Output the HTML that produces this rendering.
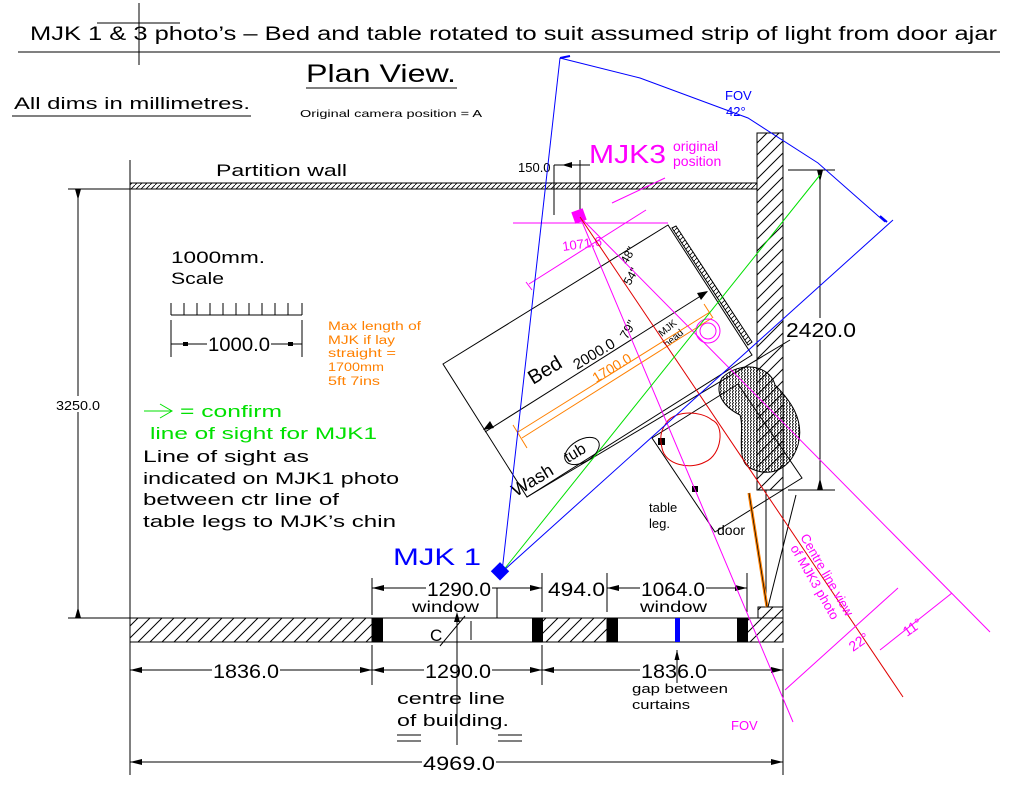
<!DOCTYPE html>
<html><head><meta charset="utf-8"><style>
html,body{margin:0;padding:0;background:#fff;}
svg{display:block;font-family:"Liberation Sans",sans-serif;}
</style></head><body>
<svg width="1013" height="794" viewBox="0 0 1013 794" xmlns="http://www.w3.org/2000/svg">
<defs>
<pattern id="h" width="12" height="12" patternUnits="userSpaceOnUse">
<path d="M0 12 L12 0 M-3 3 L3 -3 M9 15 L15 9" stroke="#000" stroke-width="1"/>
</pattern>
<pattern id="hs" width="5" height="5" patternUnits="userSpaceOnUse">
<path d="M0 5 L5 0" stroke="#000" stroke-width="0.8"/>
</pattern>
<pattern id="blob" width="3" height="3" patternUnits="userSpaceOnUse">
<path d="M0 3 L1.5 0" stroke="#000" stroke-width="1"/>
</pattern>
</defs>

<text x="30" y="40" font-size="19" textLength="967" lengthAdjust="spacingAndGlyphs">MJK 1 &amp; 3 photo’s – Bed and table rotated to suit assumed strip of light from door ajar</text>
<line x1="18" y1="52" x2="1000" y2="52" stroke="#000"/>
<line x1="97" y1="23" x2="180" y2="23" stroke="#000"/>
<line x1="139" y1="3" x2="139" y2="65" stroke="#000"/>
<text x="306" y="82" font-size="25" textLength="150" lengthAdjust="spacingAndGlyphs">Plan View.</text>
<line x1="306" y1="88" x2="457" y2="88" stroke="#000"/>
<text x="14" y="109" font-size="17" textLength="236" lengthAdjust="spacingAndGlyphs">All dims in millimetres.</text>
<line x1="12" y1="116" x2="251" y2="116" stroke="#000"/>
<text x="300" y="117" font-size="10.5" textLength="182" lengthAdjust="spacingAndGlyphs">Original camera position = A</text>

<line x1="130" y1="160" x2="130" y2="775" stroke="#000"/>
<rect x="130" y="183" width="627" height="6" fill="url(#hs)" stroke="#000"/>
<text x="216" y="176" font-size="17" textLength="131" lengthAdjust="spacingAndGlyphs">Partition wall</text>
<rect x="757" y="133" width="26" height="357" fill="url(#h)" stroke="#000"/>
<line x1="783" y1="490" x2="783" y2="642" stroke="#000"/>
<line x1="757" y1="490" x2="783" y2="490" stroke="#000"/>
<line x1="766" y1="490" x2="766" y2="607" stroke="#000"/>
<rect x="130" y="618" width="653" height="24" fill="#fff" stroke="#000"/>
<rect x="130" y="618" width="242" height="24" fill="url(#h)" stroke="#000"/>
<rect x="542" y="618" width="65" height="24" fill="url(#h)" stroke="#000"/>
<path d="M747 618 L758 618 L758 607 L783 607 L783 642 L747 642Z" fill="url(#h)" stroke="#000"/>
<rect x="372" y="618" width="11" height="24" fill="#000"/>
<rect x="532" y="618" width="11" height="24" fill="#000"/>
<rect x="607" y="618" width="11" height="24" fill="#000"/>
<rect x="737" y="618" width="11" height="24" fill="#000"/>
<rect x="675" y="618" width="5" height="24" fill="#00f"/>
<text x="430" y="641" font-size="17">C</text>
<line x1="440" y1="646" x2="465" y2="616" stroke="#000"/>
<line x1="471" y1="621" x2="471" y2="640" stroke="#000"/>
<line x1="457" y1="620" x2="457" y2="745" stroke="#000"/>
<path d="M454 622 L457 612 L460 622Z" fill="#000"/>

<line x1="68" y1="189" x2="130" y2="189" stroke="#000"/>
<line x1="68" y1="618" x2="130" y2="618" stroke="#000"/>
<line x1="78" y1="189" x2="78" y2="618" stroke="#000"/>
<path d="M75 189 L78 200 L81 189Z M75 618 L78 607 L81 618Z" fill="#000"/>
<rect x="55" y="396" width="46" height="16" fill="#fff"/>
<text x="56" y="410" font-size="13" textLength="44" lengthAdjust="spacingAndGlyphs">3250.0</text>

<line x1="788" y1="170" x2="835" y2="170" stroke="#000"/>
<line x1="788" y1="490" x2="835" y2="490" stroke="#000"/>
<line x1="820" y1="170" x2="820" y2="490" stroke="#000"/>
<path d="M817 170 L820 182 L823 170Z M817 490 L820 478 L823 490Z" fill="#000"/>
<rect x="785" y="318" width="72" height="22" fill="#fff"/>
<text x="786" y="337" font-size="20" textLength="70" lengthAdjust="spacingAndGlyphs">2420.0</text>

<g stroke="#000">
<line x1="372" y1="578" x2="372" y2="615"/><line x1="542" y1="573" x2="542" y2="612"/>
<line x1="607" y1="573" x2="607" y2="612"/><line x1="747" y1="573" x2="747" y2="612"/>
<line x1="372" y1="588" x2="542" y2="588"/><line x1="607" y1="588" x2="747" y2="588"/>
<line x1="497" y1="588" x2="497" y2="618"/>
</g>
<path d="M372 588 L384 585 L384 591Z M542 588 L530 585 L530 591Z M607 588 L619 585 L619 591Z M747 588 L735 585 L735 591Z" fill="#000"/>
<rect x="426" y="578" width="66" height="20" fill="#fff"/>
<text x="427" y="596" font-size="19" textLength="64" lengthAdjust="spacingAndGlyphs">1290.0</text>
<text x="548" y="596" font-size="19" textLength="57" lengthAdjust="spacingAndGlyphs">494.0</text>
<rect x="640" y="578" width="66" height="20" fill="#fff"/>
<text x="641" y="596" font-size="19" textLength="64" lengthAdjust="spacingAndGlyphs">1064.0</text>
<text x="412" y="612" font-size="16" textLength="67" lengthAdjust="spacingAndGlyphs">window</text>
<text x="640" y="612" font-size="16" textLength="67" lengthAdjust="spacingAndGlyphs">window</text>

<g stroke="#000">
<line x1="130" y1="648" x2="130" y2="685"/><line x1="372" y1="645" x2="372" y2="685"/>
<line x1="542" y1="645" x2="542" y2="685"/><line x1="783" y1="648" x2="783" y2="775"/>
<line x1="130" y1="670" x2="783" y2="670"/>
<line x1="130" y1="762" x2="783" y2="762"/>
</g>
<path d="M130 670 L142 667 L142 673Z M372 670 L360 667 L360 673Z M372 670 L384 667 L384 673Z M542 670 L530 667 L530 673Z M542 670 L554 667 L554 673Z M783 670 L771 667 L771 673Z M783 762 L771 759 L771 765Z M130 762 L142 759 L142 765Z M674 662 L677 650 L680 662Z" fill="#000"/>
<rect x="212" y="660" width="68" height="20" fill="#fff"/><text x="213" y="678" font-size="19" textLength="66" lengthAdjust="spacingAndGlyphs">1836.0</text>
<rect x="424" y="660" width="68" height="20" fill="#fff"/><text x="425" y="678" font-size="19" textLength="66" lengthAdjust="spacingAndGlyphs">1290.0</text>
<line x1="457" y1="660" x2="457" y2="682" stroke="#000"/>
<rect x="640" y="660" width="68" height="20" fill="#fff"/><text x="641" y="678" font-size="19" textLength="66" lengthAdjust="spacingAndGlyphs">1836.0</text>
<line x1="677" y1="650" x2="677" y2="683" stroke="#000"/>
<text x="632" y="693" font-size="12.5" textLength="96" lengthAdjust="spacingAndGlyphs">gap between</text>
<text x="632" y="709" font-size="12.5" textLength="58" lengthAdjust="spacingAndGlyphs">curtains</text>
<rect x="422" y="752" width="74" height="20" fill="#fff"/><text x="423" y="770" font-size="19" textLength="72" lengthAdjust="spacingAndGlyphs">4969.0</text>
<text x="397" y="704" font-size="17" textLength="108" lengthAdjust="spacingAndGlyphs">centre line</text>
<text x="397" y="726" font-size="17" textLength="112" lengthAdjust="spacingAndGlyphs">of building.</text>
<path d="M397 735 H421 M397 741 H421 M498 735 H522 M498 741 H522" stroke="#000"/>

<text x="171" y="263" font-size="17" textLength="94" lengthAdjust="spacingAndGlyphs">1000mm.</text>
<text x="171" y="284" font-size="17" textLength="53" lengthAdjust="spacingAndGlyphs">Scale</text>
<line x1="171" y1="315" x2="302" y2="315" stroke="#000"/>
<path d="M171 303 V315 M184 303 V315 M197 303 V315 M210 303 V315 M223 303 V315 M236 303 V315 M249 303 V315 M262 303 V315 M275 303 V315 M288 303 V315 M302 303 V315" stroke="#000"/>
<path d="M171 320 V357 M302 320 V357 M171 344 H302" stroke="#000"/>
<rect x="183" y="342" width="5" height="4" fill="#000"/><rect x="288" y="342" width="5" height="4" fill="#000"/>
<rect x="207" y="333" width="64" height="20" fill="#fff"/><text x="208" y="351" font-size="19" textLength="62" lengthAdjust="spacingAndGlyphs">1000.0</text>
<g fill="#ff8000" font-size="11.5">
<text x="328" y="330" textLength="93" lengthAdjust="spacingAndGlyphs">Max length of</text>
<text x="328" y="344" textLength="67" lengthAdjust="spacingAndGlyphs">MJK if lay</text>
<text x="328" y="357" textLength="68" lengthAdjust="spacingAndGlyphs">straight =</text>
<text x="328" y="371" textLength="56" lengthAdjust="spacingAndGlyphs">1700mm</text>
<text x="328" y="385" textLength="52" lengthAdjust="spacingAndGlyphs">5ft 7ins</text>
</g>
<g fill="#00e000" font-size="17">
<path d="M144 411 H172 M160 404 L172 411 L160 418" stroke="#00e000" fill="none"/>
<text x="180" y="417" textLength="102" lengthAdjust="spacingAndGlyphs">= confirm</text>
<text x="150" y="439" textLength="227" lengthAdjust="spacingAndGlyphs">line of sight for MJK1</text>
</g>
<g font-size="17">
<text x="143" y="462" textLength="166" lengthAdjust="spacingAndGlyphs">Line of sight as</text>
<text x="143" y="484" textLength="256" lengthAdjust="spacingAndGlyphs">indicated on MJK1 photo</text>
<text x="143" y="505" textLength="196" lengthAdjust="spacingAndGlyphs">between ctr line of</text>
<text x="143" y="527" textLength="253" lengthAdjust="spacingAndGlyphs">table legs to MJK’s chin</text>
</g>

<g stroke="#000" fill="none">
<path d="M443 364 L668 225 L752 355 L527 497 Z"/>
<path d="M485 432 L707 292"/>
<path d="M672 228 L676 226 L752 342 L748 345Z" fill="url(#hs)"/>
<path d="M527 497 L790 340"/>
<path d="M652 438 L738 384 L802 478 L715 532 Z"/>
</g>
<path d="M483 430 L494 428 L490 421Z M708 291 L697 293 L701 300Z" fill="#000"/>
<rect x="658" y="438" width="7" height="7" fill="#000"/>
<rect x="692" y="486" width="6" height="6" fill="#000"/>
<text x="0" y="0" font-size="20" transform="translate(533,385) rotate(-31)">Bed</text>
<text x="0" y="0" font-size="15" transform="translate(577,370) rotate(-31)">2000.0</text>
<text x="0" y="0" font-size="14" fill="#ff8000" transform="translate(596,383) rotate(-31)">1700.0</text>
<text x="0" y="0" font-size="18" transform="translate(516,497) rotate(-31)">Wash</text>
<ellipse cx="582" cy="451" rx="19" ry="11" transform="rotate(-31 582 451)" fill="none" stroke="#000"/>
<text x="0" y="0" font-size="16" transform="translate(568,463) rotate(-31)">tub</text>
<text x="0" y="0" font-size="13" transform="translate(627,340) rotate(-60)">79"</text>
<text x="0" y="0" font-size="12" transform="translate(627,265) rotate(-60)">48"</text>
<text x="0" y="0" font-size="12" transform="translate(630,286) rotate(-60)">54"</text>
<text x="0" y="0" font-size="10" transform="translate(662,337) rotate(-40)">MJK</text>
<text x="0" y="0" font-size="10" transform="translate(667,348) rotate(-40)">head</text>
<g stroke="#ff8000" fill="none">
<path d="M518 432 L710 312 M522 438 L712 318 M513 425 L527 448 M704 304 L713 318"/>
</g>
<path d="M722 378 C740 360 770 365 775 385 C790 400 805 420 798 445 C790 470 770 478 750 468 C735 460 745 430 740 415 C720 405 715 390 722 378Z" fill="url(#blob)" stroke="#000"/>
<path d="M665 425 C672 410 700 410 712 420 C725 425 722 455 705 462 C690 470 665 465 662 448 C660 440 660 432 665 425Z" fill="none" stroke="#e00000"/>
<text x="649" y="512" font-size="13">table</text>
<text x="649" y="528" font-size="13">leg.</text>
<text x="717" y="535" font-size="14">door</text>
<line x1="749" y1="493" x2="767" y2="607" stroke="#ff8000" stroke-width="3"/>
<line x1="749" y1="493" x2="767" y2="607" stroke="#000" stroke-width="0.7"/>
<line x1="768" y1="607" x2="796" y2="495" stroke="#000"/>

<text x="589" y="163" font-size="26" fill="#f0f" textLength="77" lengthAdjust="spacingAndGlyphs">MJK3</text>
<text x="673" y="151" font-size="14" fill="#f0f">original</text>
<text x="673" y="166" font-size="14" fill="#f0f">position</text>
<text x="518" y="172" font-size="13">150.0</text>
<path d="M554 165 V215 M580 160 V214 M554 165 H590" stroke="#000"/>
<path d="M562 165 L572 162 L572 168Z" fill="#000"/>
<rect x="573" y="210" width="12" height="12" fill="#f0f" transform="rotate(-20 579 216)"/>
<line x1="513" y1="223" x2="668" y2="223" stroke="#f0f"/>
<path d="M529 284 L646 210 M612 203 L665 178 M526 282 L532 290" stroke="#f0f"/>
<text x="0" y="0" font-size="13" fill="#f0f" transform="translate(563,251) rotate(-8)">1071.6</text>
<circle cx="708" cy="331" r="12" fill="none" stroke="#f0f"/>
<circle cx="708" cy="331" r="8" fill="none" stroke="#f0f"/>

<line x1="580" y1="217" x2="793" y2="722" stroke="#f0f"/>
<line x1="580" y1="217" x2="990" y2="632" stroke="#f0f"/>
<line x1="580" y1="217" x2="903" y2="697" stroke="#e00000"/>
<line x1="502" y1="572" x2="560" y2="58" stroke="#00f"/>
<line x1="502" y1="572" x2="893" y2="220" stroke="#00f"/>
<line x1="502" y1="572" x2="820" y2="175" stroke="#00e000"/>
<path d="M560 58 L640 78 L748 118 L818 163 L885 222" fill="none" stroke="#00f"/>
<path d="M560 58 L570 56 M880 216 L887 222" stroke="#00f" stroke-width="2"/>
<text x="725" y="100" font-size="13" fill="#00f">FOV</text>
<text x="726" y="116" font-size="13" fill="#00f">42°</text>
<rect x="494" y="565" width="13" height="13" fill="#00f" transform="rotate(-45 500 572)"/>
<text x="393" y="565" font-size="24" fill="#00f" textLength="88" lengthAdjust="spacingAndGlyphs">MJK  1</text>

<path d="M785 690 L898 588 M880 650 L952 593" stroke="#f0f" fill="none"/>
<text x="0" y="0" font-size="13" fill="#f0f" transform="translate(800,537) rotate(60)">Centre line view</text>
<text x="0" y="0" font-size="13" fill="#f0f" transform="translate(790,548) rotate(60)">of MJK3 photo</text>
<text x="0" y="0" font-size="14" fill="#f0f" transform="translate(853,652) rotate(-35)">22°</text>
<text x="0" y="0" font-size="14" fill="#f0f" transform="translate(907,637) rotate(-35)">11°</text>
<text x="731" y="730" font-size="13" fill="#f0f">FOV</text>
</svg>
</body></html>
